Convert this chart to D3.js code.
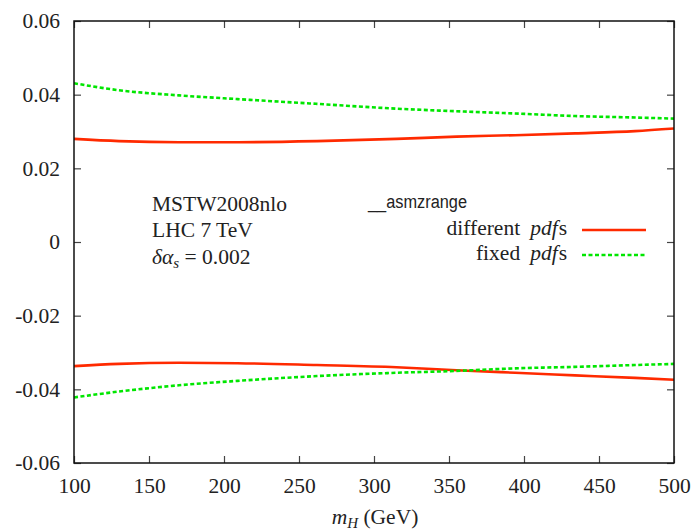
<!DOCTYPE html>
<html>
<head>
<meta charset="utf-8">
<script src="https://cdn.jsdelivr.net/npm/d3@7"></script>
<style>
  body { margin: 0; background: #fff; }
  svg { display: block; }
  .tick text { font-family: "Liberation Serif", serif; font-size: 21.5px; fill: #222; }
</style>
</head>
<body>
<svg id="chart" width="694" height="532"></svg>
<script>
// Higgs mass (GeV) grid and alpha_s uncertainty curves
const massDiff = [100, 130, 170, 209, 262, 315, 355, 394, 434, 474, 500];
const diffUpper = [0.0280, 0.0274, 0.0271, 0.0271, 0.0274, 0.0280, 0.0286, 0.0290, 0.0295, 0.0301, 0.0308];
const diffLower = [-0.0337, -0.0331, -0.0328, -0.0329, -0.0334, -0.0340, -0.0348, -0.0355, -0.0362, -0.0369, -0.0374];

const massFixed = [100, 130, 170, 209, 262, 315, 355, 394, 434, 474, 500];
const fixedUpper = [0.0431, 0.0412, 0.0398, 0.0388, 0.0375, 0.0362, 0.0355, 0.0349, 0.0342, 0.0338, 0.0335];
const fixedLower = [-0.0422, -0.0406, -0.0389, -0.0377, -0.0364, -0.0355, -0.0350, -0.0343, -0.0339, -0.0334, -0.0331];

const xTicks = [100, 150, 200, 250, 300, 350, 400, 450, 500];
const yTicks = [-0.06, -0.04, -0.02, 0, 0.02, 0.04, 0.06];
const yTickLabels = ["-0.06", "-0.04", "-0.02", "0", "0.02", "0.04", "0.06"];

const width = 694, height = 532;
const margin = { top: 21, right: 20, bottom: 69, left: 74 };
const innerW = width - margin.left - margin.right;
const innerH = height - margin.top - margin.bottom;

const svg = d3.select("#chart");
const g = svg.append("g").attr("transform", `translate(${margin.left},${margin.top})`);

const x = d3.scaleLinear().domain([100, 500]).range([0, innerW]);
const y = d3.scaleLinear().domain([-0.06, 0.06]).range([innerH, 0]);

// axes with inward ticks on all four sides
const xAxis = g.append("g").attr("transform", `translate(0,${innerH})`)
  .call(d3.axisBottom(x).tickValues(xTicks).tickSize(-7).tickPadding(15).tickFormat(d3.format("d")));
const xTop = g.append("g")
  .call(d3.axisTop(x).tickValues(xTicks).tickSize(-7).tickFormat(""));
const yAxis = g.append("g")
  .call(d3.axisLeft(y).tickValues(yTicks).tickSize(-7).tickPadding(14)
    .tickFormat((d, i) => yTickLabels[i]));
const yRight = g.append("g").attr("transform", `translate(${innerW},0)`)
  .call(d3.axisRight(y).tickValues(yTicks).tickSize(-7).tickFormat(""));

[xAxis, xTop, yAxis, yRight].forEach(a => {
  a.select(".domain").remove();
  a.selectAll(".tick line").attr("stroke", "#444").attr("stroke-width", 1.2);
});

// curves
const line = d3.line().curve(d3.curveMonotoneX).x(d => x(d[0])).y(d => y(d[1]));
const redColor = "#ff2a00", greenColor = "#00e600";

[diffUpper, diffLower].forEach(vals => {
  g.append("path")
    .datum(massDiff.map((m, i) => [m, vals[i]]))
    .attr("fill", "none").attr("stroke", redColor).attr("stroke-width", 2.6)
    .attr("d", line);
});
[fixedUpper, fixedLower].forEach(vals => {
  g.append("path")
    .datum(massFixed.map((m, i) => [m, vals[i]]))
    .attr("fill", "none").attr("stroke", greenColor).attr("stroke-width", 2.6)
    .attr("stroke-dasharray", "4,2.5")
    .attr("d", line);
});

// frame
g.append("rect").attr("width", innerW).attr("height", innerH)
  .attr("fill", "none").attr("stroke", "#111").attr("stroke-width", 1.5);

// annotations
const serif = "Liberation Serif, serif";
const note = svg.append("text").attr("font-family", serif).attr("font-size", 21.5).attr("fill", "#222");
note.append("tspan").attr("x", 152).attr("y", 211).text("MSTW2008nlo");
note.append("tspan").attr("x", 152).attr("y", 237).text("LHC 7 TeV");
const da = note.append("tspan").attr("x", 152).attr("y", 264);
da.append("tspan").attr("font-style", "italic").text("δα");
da.append("tspan").attr("font-style", "italic").attr("font-size", 15).attr("dy", 4).text("s");
da.append("tspan").attr("dy", -4).text(" = 0.002");

svg.append("text").attr("x", 368).attr("y", 208)
  .attr("font-family", "Liberation Sans, Arial, sans-serif").attr("font-size", 18).attr("fill", "#222")
  .attr("textLength", 99).attr("lengthAdjust", "spacingAndGlyphs")
  .text("__asmzrange");

// legend
const legend = [
  { label: "different", color: redColor, dash: null, y: 230 },
  { label: "fixed", color: greenColor, dash: "4,2.5", y: 255 }
];
legend.forEach(d => {
  const t = svg.append("text").attr("x", 567).attr("y", d.y + 5).attr("text-anchor", "end")
    .attr("font-family", serif).attr("font-size", 21.5).attr("fill", "#222");
  t.append("tspan").text(d.label);
  t.append("tspan").attr("dx", 10).attr("font-style", "italic").text("pdf");
  t.append("tspan").attr("dx", 1).text("s");
  svg.append("line").attr("x1", 582).attr("x2", 646).attr("y1", d.y).attr("y2", d.y)
    .attr("stroke", d.color).attr("stroke-width", 2.6)
    .attr("stroke-dasharray", d.dash);
});

// x axis title
const xt = svg.append("text").attr("x", 375).attr("y", 524).attr("text-anchor", "middle")
  .attr("font-family", serif).attr("font-size", 21.5).attr("fill", "#222");
xt.append("tspan").attr("font-style", "italic").text("m");
xt.append("tspan").attr("font-style", "italic").attr("font-size", 15).attr("dy", 4).text("H");
xt.append("tspan").attr("dy", -4).text(" (GeV)");
</script>
</body>
</html>
